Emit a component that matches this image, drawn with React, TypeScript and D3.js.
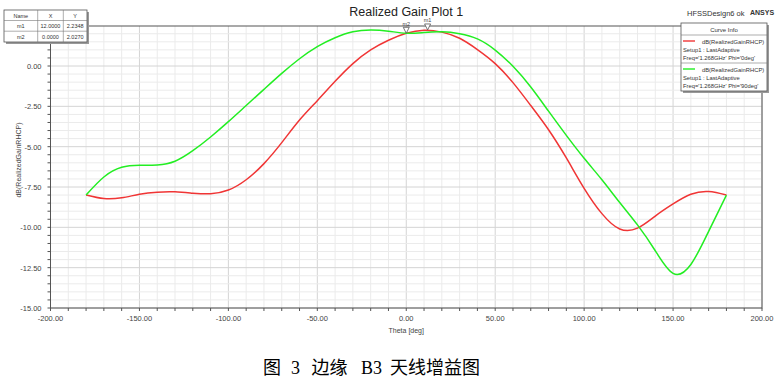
import React from 'react';
import * as d3 from 'd3';

// theta in degrees
const theta = [-180, -170, -160, -150, -140, -130, -120, -110, -100, -90, -80, -70, -60, -50, -40, -30, -20, -10, 0, 10, 20, 30, 40, 50, 60, 70, 80, 90, 100, 110, 120, 130, 140, 150, 160, 170, 180];

// dB(RealizedGainRHCP), phi = 0deg (red)
const gainPhi0 = [-8.0, -8.22, -8.17, -7.95, -7.82, -7.8, -7.88, -7.92, -7.69, -7.05, -6.05, -4.75, -3.35, -2.15, -0.95, 0.15, 1.0, 1.6, 2.03, 2.22, 2.1, 1.72, 1.02, 0.15, -1.03, -2.45, -3.95, -5.7, -7.58, -9.15, -10.1, -10.05, -9.3, -8.55, -7.95, -7.78, -8.0];

// dB(RealizedGainRHCP), phi = 90deg (green)
const gainPhi90 = [-8.0, -6.88, -6.28, -6.15, -6.13, -5.9, -5.25, -4.4, -3.45, -2.45, -1.45, -0.46, 0.45, 1.2, 1.75, 2.12, 2.23, 2.16, 2.03, 2.08, 2.12, 2.0, 1.68, 0.99, -0.02, -1.3, -2.8, -4.3, -5.72, -7.05, -8.46, -9.85, -11.45, -12.85, -12.3, -10.25, -8.0];

const xTicks = [-200, -150, -100, -50, 0, 50, 100, 150, 200];
const yTicks = [0, -2.5, -5, -7.5, -10, -12.5, -15];

const markerNames = ['m1', 'm2'];
const markerX = [12, 0];
const markerY = [2.2348, 2.027];

const curveNames = ['dB(RealizedGainRHCP)', 'dB(RealizedGainRHCP)'];
const curveSetups = ['Setup1 : LastAdaptive', 'Setup1 : LastAdaptive'];
const curveFreqs = ["Freq='1.268GHz' Phi='0deg'", "Freq='1.268GHz' Phi='90deg'"];
const curveColors = ['#f03535', '#22ee22'];

const W = 782;
const H = 385;
const left = 50.5;
const right = 762;
const top = 26;
const bottom = 308;
const sans = 'Arial, "Liberation Sans", sans-serif';

export default function App() {
  const x = d3.scaleLinear().domain([-200, 200]).range([left, right]);
  const y = d3.scaleLinear().domain([-15, 2.48]).range([bottom, top]);

  const line = d3.line<number>()
    .x((d, i) => x(theta[i]))
    .y(d => y(d))
    .curve(d3.curveNatural);

  const minorX = d3.range(-200, 201, 10);
  const minorY = d3.range(-15, 2.5, 0.5);

  return (
    <svg width={W} height={H} style={{ position: 'absolute', left: 0, top: 0, background: '#fff' }}>
      {/* grid */}
      {minorX.map(v => (
        <line key={'gx' + v} x1={x(v)} x2={x(v)} y1={top} y2={bottom}
          stroke={v % 50 === 0 ? '#d4d4d4' : '#ebebeb'} strokeWidth={1} />
      ))}
      {minorY.map(v => (
        <line key={'gy' + v} x1={left} x2={right} y1={y(v)} y2={y(v)}
          stroke={Math.abs(v % 2.5) < 1e-9 ? '#d4d4d4' : '#ebebeb'} strokeWidth={1} />
      ))}

      {/* frame */}
      <rect x={left} y={top} width={right - left} height={bottom - top} fill="none" stroke="#555" strokeWidth={1} />

      {/* y ticks */}
      {minorY.map(v => (
        <line key={'ty' + v} x1={left - 3} x2={left} y1={y(v)} y2={y(v)} stroke="#555" />
      ))}
      {yTicks.map(v => (
        <text key={'ly' + v} x={left - 9} y={y(v) + 3} textAnchor="end" fontSize={7.5} fontFamily={sans} fill="#444">
          {v.toFixed(2)}
        </text>
      ))}

      {/* x ticks */}
      {minorX.map(v => (
        <line key={'tx' + v} x1={x(v)} x2={x(v)} y1={bottom} y2={bottom + 3} stroke="#555" />
      ))}
      {xTicks.map(v => (
        <text key={'lx' + v} x={x(v)} y={bottom + 13} textAnchor="middle" fontSize={7.5} fontFamily={sans} fill="#444">
          {v.toFixed(2)}
        </text>
      ))}

      <text x={x(0)} y={333} textAnchor="middle" fontSize={7} fontFamily={sans} fill="#444">Theta [deg]</text>
      <text transform={`translate(21,160) rotate(-90)`} textAnchor="middle" fontSize={7} fontFamily={sans} fill="#444">
        dB(RealizedGainRHCP)
      </text>

      {/* curves */}
      <path d={line(gainPhi0) || ''} fill="none" stroke={curveColors[0]} strokeWidth={1.5} />
      <path d={line(gainPhi90) || ''} fill="none" stroke={curveColors[1]} strokeWidth={1.5} />

      {/* markers */}
      {markerNames.map((m, i) => {
        const mx = x(markerX[i]);
        const my = y(markerY[i]);
        return (
          <g key={m}>
            <path d={`M${mx},${my} L${mx - 3},${my - 6} L${mx + 3},${my - 6} Z`} fill="#fff" stroke="#555" strokeWidth={0.8} />
            <text x={mx} y={my - 7.5} textAnchor="middle" fontSize={5.5} fontFamily={sans} fill="#444">{m}</text>
          </g>
        );
      })}

      {/* title */}
      <text x={x(0)} y={16} textAnchor="middle" fontSize={12.5} fontFamily={sans} fill="#222">Realized Gain Plot 1</text>
      <text x={687} y={16} fontSize={7.5} fontFamily={sans} fill="#333">HFSSDesign6 ok</text>
      <text x={750} y={15} fontSize={7} fontWeight="bold" fontFamily={sans} fill="#333">ANSYS</text>

      {/* marker table */}
      <rect x={6} y={12} width={83} height={32} fill="#999" />
      <rect x={4} y={10} width={83} height={32} fill="#fff" stroke="#555" strokeWidth={0.8} />
      <line x1={37.7} x2={37.7} y1={10} y2={42} stroke="#777" strokeWidth={0.6} />
      <line x1={63.3} x2={63.3} y1={10} y2={42} stroke="#777" strokeWidth={0.6} />
      <line x1={4} x2={87} y1={20.5} y2={20.5} stroke="#777" strokeWidth={0.6} />
      <line x1={4} x2={87} y1={31.2} y2={31.2} stroke="#777" strokeWidth={0.6} />
      {['Name', 'X', 'Y'].map((h, i) => (
        <text key={h} x={[20.8, 50.5, 75.2][i]} y={17.5} textAnchor="middle" fontSize={5.5} fontFamily={sans} fill="#333">{h}</text>
      ))}
      {markerNames.map((m, i) => (
        <g key={'row' + m}>
          <text x={20.8} y={28 + i * 10.7} textAnchor="middle" fontSize={5.5} fontFamily={sans} fill="#333">{m}</text>
          <text x={50.5} y={28 + i * 10.7} textAnchor="middle" fontSize={5.5} fontFamily={sans} fill="#333">{markerX[i].toFixed(4)}</text>
          <text x={75.2} y={28 + i * 10.7} textAnchor="middle" fontSize={5.5} fontFamily={sans} fill="#333">{markerY[i].toFixed(4)}</text>
        </g>
      ))}

      {/* curve info legend */}
      <rect x={683} y={25} width={86} height={68} fill="#999" />
      <rect x={681} y={23} width={86} height={68} fill="#fff" stroke="#555" strokeWidth={0.8} />
      <text x={724} y={32} textAnchor="middle" fontSize={6} fontFamily={sans} fill="#333">Curve Info</text>
      <line x1={681} x2={767} y1={35} y2={35} stroke="#777" strokeWidth={0.6} />
      <line x1={681} x2={767} y1={63} y2={63} stroke="#777" strokeWidth={0.6} />
      {curveNames.map((c, i) => {
        const oy = 35 + i * 28;
        return (
          <g key={'leg' + i}>
            <line x1={683} x2={695} y1={oy + 6} y2={oy + 6} stroke={curveColors[i]} strokeWidth={1.4} />
            <text x={702} y={oy + 8.5} fontSize={5.8} fontFamily={sans} fill="#333">{c}</text>
            <text x={683} y={oy + 17} fontSize={5.8} fontFamily={sans} fill="#333">{curveSetups[i]}</text>
            <text x={683} y={oy + 25} fontSize={5.8} fontFamily={sans} fill="#333">{curveFreqs[i]}</text>
          </g>
        );
      })}

      {/* caption */}
      <g fontFamily='"Liberation Serif", "Noto Sans CJK SC", serif' fontSize={18} fill="#000">
        <text x={263} y={374}>图</text>
        <text x={291} y={374}>3</text>
        <text x={311.5} y={374}>边缘</text>
        <text x={361} y={374}>B3</text>
        <text x={390} y={374}>天线增益图</text>
      </g>
    </svg>
  );
}
